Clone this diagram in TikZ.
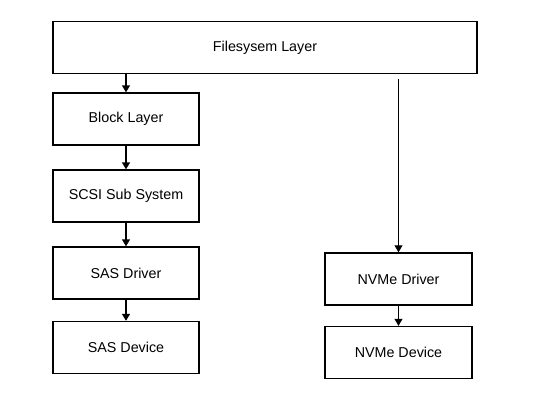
\documentclass[tikz,border=0pt]{standalone}
\usepackage{fontspec}
\setmainfont{Liberation Sans}
\usetikzlibrary{arrows.meta}
\begin{document}
\begin{tikzpicture}[x=1pt,y=-1pt,
  box/.style={draw=black,line width=1.4pt,fill=white,minimum height=52pt,inner sep=0pt,font=\fontsize{14.3}{16}\selectfont},
  arr/.style={line width=1.4pt,-{Triangle[width=8pt,length=7pt]}}]
\useasboundingbox (0,0) rectangle (550,402);
\node[box,minimum width=424pt] (fs) at (265,47.5) {Filesysem Layer};
\node[box,minimum width=146pt] (bl) at (126,119) {Block Layer};
\node[box,minimum width=146pt] (scsi) at (126,196) {SCSI Sub System};
\node[box,minimum width=146pt] (sasd) at (126,273) {SAS Driver};
\node[box,minimum width=146pt] (sasdev) at (126,347.5) {SAS Device};
\node[box,minimum width=147pt] (nvd) at (398.5,279) {NVMe Driver};
\node[box,minimum width=147pt] (nvdev) at (398.5,352.5) {NVMe Device};
\draw[arr] (fs.south -| bl.north) -- (bl.north);
\draw[arr] (bl) -- (scsi);
\draw[arr] (scsi) -- (sasd);
\draw[arr] (sasd) -- (sasdev);
\draw[arr,line width=1.1pt] ([yshift=-5pt]fs.south -| nvd.north) -- (nvd.north);
\draw[arr,line width=1.1pt] (nvd) -- (nvdev);
\end{tikzpicture}
\end{document}
